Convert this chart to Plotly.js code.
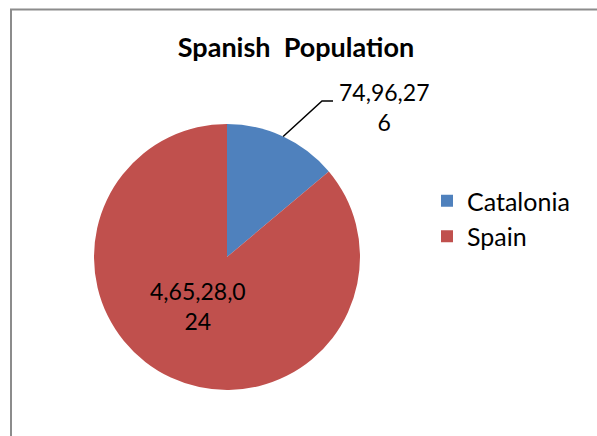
<!DOCTYPE html>
<html>
<head>
<meta charset="utf-8">
<script src="https://cdn.plot.ly/plotly-3.0.1.min.js"></script>
<style>
html,body{margin:0;padding:0;background:#fff;}
#chart{width:597px;height:436px;}
</style>
</head>
<body>
<div id="chart"></div>
<script>
const categories = ["Catalonia", "Spain"];
const values = [7496276, 46528024];
const colors = ["#4F81BD", "#C0504D"];
const wrapAt = [8, 9];
const chartTitle = "Spanish\u00a0\u00a0Population";

function indianFormat(n) {
  const s = String(Math.round(n));
  if (s.length <= 3) return s;
  let last3 = s.slice(-3);
  let rest = s.slice(0, -3);
  const parts = [];
  while (rest.length > 2) { parts.unshift(rest.slice(-2)); rest = rest.slice(0, -2); }
  if (rest.length) parts.unshift(rest);
  return parts.join(",") + "," + last3;
}
function wrapText(t, n) {
  return t.length > n ? t.slice(0, n) + "<br>" + t.slice(n) : t;
}

const W = 597, H = 436;
const cx = 227, cy = 257, R = 133;
const font = "Lato, 'Liberation Sans', sans-serif";

const total = values.reduce((a, b) => a + b, 0);
const midAngle = 0.5 * values[0] / total * 2 * Math.PI;
const sx = cx + R * Math.sin(midAngle), sy = cy - R * Math.cos(midAngle);
const px = (x) => x / W, py = (y) => 1 - y / H;

const trace = {
  type: "pie",
  labels: categories,
  values: values,
  sort: false,
  direction: "clockwise",
  rotation: 0,
  marker: {colors: colors, line: {width: 0}},
  textinfo: "none",
  hoverinfo: "label+value",
  domain: {x: [px(cx - R), px(cx + R)], y: [py(cy + R), py(cy - R)]}
};

const labels = values.map((v, i) => wrapText(indianFormat(v), wrapAt[i]));

const layout = {
  width: W, height: H,
  margin: {l: 0, r: 0, t: 0, b: 0},
  paper_bgcolor: "#fff",
  showlegend: true,
  title: {text: "<b>" + chartTitle + "</b>", x: px(296), xanchor: "center", y: py(48), yanchor: "middle",
          font: {family: font, size: 27, color: "#000"}},
  legend: {x: px(427), xanchor: "left", y: py(178), yanchor: "top",
           font: {family: font, size: 25, color: "#000"}, bgcolor: "rgba(0,0,0,0)", itemclick: false},
  font: {family: font, color: "#000"},
  annotations: [
    {text: labels[0], x: px(384), y: py(107), xref: "paper", yref: "paper", xanchor: "center", yanchor: "middle",
     showarrow: false, font: {family: font, size: 23, color: "#000"}, align: "center"},
    {text: labels[1], x: px(198), y: py(306), xref: "paper", yref: "paper", xanchor: "center", yanchor: "middle",
     showarrow: false, font: {family: font, size: 23, color: "#000"}, align: "center"}
  ],
  shapes: [
    {type: "rect", xref: "paper", yref: "paper", x0: px(11), y0: py(9.5), x1: px(W + 10), y1: py(H + 10),
     line: {color: "#8c8c8c", width: 2}, fillcolor: "rgba(0,0,0,0)"},
    {type: "path", xref: "paper", yref: "paper",
     path: "M" + px(sx) + "," + py(sy) + " L" + px(322) + "," + py(101) + " L" + px(333) + "," + py(101),
     line: {color: "#000", width: 1.5}}
  ]
};

Plotly.newPlot("chart", [trace], layout, {staticPlot: true, displayModeBar: false});
</script>
</body>
</html>
